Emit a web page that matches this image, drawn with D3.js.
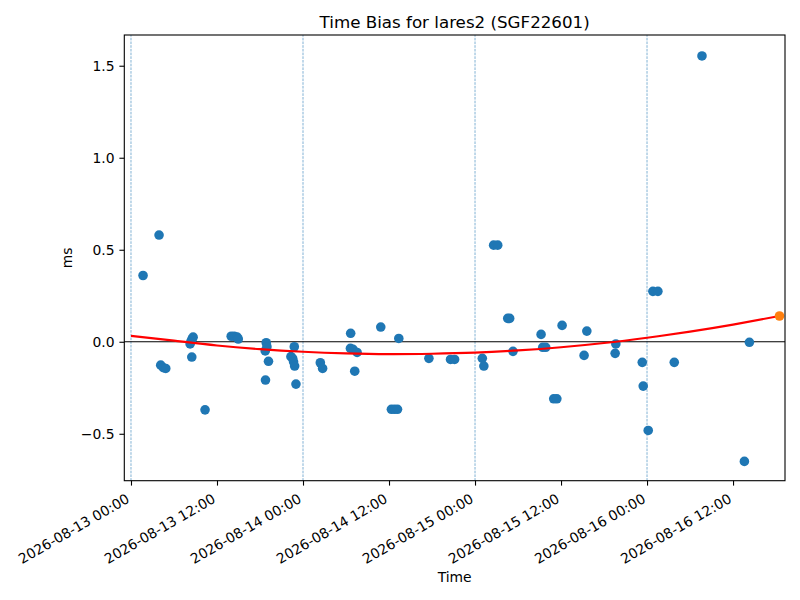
<!DOCTYPE html>
<html>
<head>
<meta charset="utf-8">
<script src="https://cdn.jsdelivr.net/npm/d3@7"></script>
<style>
  body { margin: 0; background: #fff; }
  svg { font-family: "DejaVu Sans", sans-serif; }
</style>
</head>
<body>
<div id="chart"></div>
<script>
// observation times (UTC) and time bias in ms
var obsTimes = [
  "2026-08-13T01:41", "2026-08-13T03:55", "2026-08-13T04:09", "2026-08-13T04:31", "2026-08-13T04:51",
  "2026-08-13T08:15", "2026-08-13T08:23", "2026-08-13T08:29", "2026-08-13T08:32", "2026-08-13T08:40",
  "2026-08-13T10:20", "2026-08-13T13:59", "2026-08-13T14:24", "2026-08-13T14:49", "2026-08-13T14:58",
  "2026-08-13T18:44", "2026-08-13T18:46", "2026-08-13T18:52", "2026-08-13T18:58", "2026-08-13T19:11",
  "2026-08-13T22:19", "2026-08-13T22:33", "2026-08-13T22:41", "2026-08-13T22:47", "2026-08-13T22:50",
  "2026-08-13T23:01", "2026-08-14T02:25", "2026-08-14T02:44", "2026-08-14T06:37", "2026-08-14T06:39",
  "2026-08-14T06:59", "2026-08-14T07:13", "2026-08-14T07:33", "2026-08-14T10:51", "2026-08-14T12:20",
  "2026-08-14T12:46", "2026-08-14T13:11", "2026-08-14T13:22", "2026-08-14T17:34", "2026-08-14T20:35",
  "2026-08-14T21:09", "2026-08-15T01:01", "2026-08-15T01:14", "2026-08-15T02:36", "2026-08-15T03:10",
  "2026-08-15T04:34", "2026-08-15T04:50", "2026-08-15T05:18", "2026-08-15T09:13", "2026-08-15T09:27",
  "2026-08-15T09:52", "2026-08-15T10:59", "2026-08-15T11:25", "2026-08-15T12:09", "2026-08-15T15:13",
  "2026-08-15T15:36", "2026-08-15T19:33", "2026-08-15T19:39", "2026-08-15T23:20", "2026-08-15T23:28",
  "2026-08-16T00:10", "2026-08-16T00:49", "2026-08-16T01:31", "2026-08-16T03:48", "2026-08-16T07:40",
  "2026-08-16T13:35", "2026-08-16T14:17"
];
var obsBias = [
  0.36, 0.58, -0.127, -0.141, -0.145,
  -0.012, 0.004, -0.083, 0.015, 0.025,
  -0.37, 0.03, 0.03, 0.025, 0.015,
  -0.05, -0.208, -0.005, -0.027, -0.106,
  -0.081, -0.09, -0.109, -0.027, -0.132,
  -0.23, -0.114, -0.145, -0.036, 0.046,
  -0.041, -0.16, -0.058, 0.08, -0.367,
  -0.367, -0.367, 0.018, -0.09, -0.096,
  -0.096, -0.09, -0.132, 0.525, 0.525,
  0.127, 0.127, -0.052, 0.04, -0.03,
  -0.03, -0.31, -0.31, 0.089, -0.074,
  0.058, -0.063, -0.012, -0.112, -0.241,
  -0.482, 0.274, 0.274, -0.112, 1.553,
  -0.65, -0.003
];

// fitted trend (red)
var fitTimes = [
  "2026-08-13T00:00", "2026-08-13T06:00", "2026-08-13T12:00", "2026-08-13T18:00",
  "2026-08-14T00:00", "2026-08-14T06:00", "2026-08-14T12:00", "2026-08-14T18:00",
  "2026-08-15T00:00", "2026-08-15T06:00", "2026-08-15T12:00", "2026-08-15T18:00",
  "2026-08-16T00:00", "2026-08-16T06:00", "2026-08-16T12:00", "2026-08-16T18:29"
];
var fitBias = [0.032, 0.006, -0.02, -0.04, -0.054, -0.063, -0.067, -0.065,
               -0.059, -0.047, -0.03, -0.007, 0.022, 0.055, 0.093, 0.14];

// predicted point (orange)
var predTime = ["2026-08-16T18:29"];
var predBias = [0.14];

var dayLines = ["2026-08-13T00:00", "2026-08-14T00:00", "2026-08-15T00:00", "2026-08-16T00:00"];
var xDomain = ["2026-08-12T23:04", "2026-08-16T19:15"];
var yDomain = [-0.755, 1.667];
var yTicks = [-0.5, 0.0, 0.5, 1.0, 1.5];

var width = 800, height = 600;
var margin = {top: 35, right: 15, bottom: 119.3, left: 124.3};

var parse = d3.utcParse("%Y-%m-%dT%H:%M");
var fmt = d3.utcFormat("%Y-%m-%d %H:%M");

var points = obsTimes.map(function (t, i) { return {t: parse(t), v: obsBias[i]}; });
var fit = fitTimes.map(function (t, i) { return {t: parse(t), v: fitBias[i]}; });
var pred = predTime.map(function (t, i) { return {t: parse(t), v: predBias[i]}; });

var svg = d3.select("#chart").append("svg")
    .attr("width", width)
    .attr("height", height);

var x = d3.scaleUtc()
    .domain(xDomain.map(parse))
    .range([margin.left, width - margin.right]);

var y = d3.scaleLinear()
    .domain(yDomain)
    .range([height - margin.bottom, margin.top]);

var plot = svg.append("g");

// dashed day separators
plot.selectAll(".dayline")
    .data(dayLines.map(parse))
    .enter().append("line")
    .attr("x1", function (d) { return x(d); })
    .attr("x2", function (d) { return x(d); })
    .attr("y1", y(yDomain[0]))
    .attr("y2", y(yDomain[1]))
    .style("stroke", "#1f77b4")
    .style("stroke-width", 0.7)
    .style("stroke-dasharray", "2.6,1.1")
    .style("opacity", 0.8);

// zero line
plot.append("line")
    .attr("x1", x.range()[0])
    .attr("x2", x.range()[1])
    .attr("y1", y(0))
    .attr("y2", y(0))
    .style("stroke", "#000")
    .style("stroke-width", 1.1);

plot.selectAll(".obs")
    .data(points)
    .enter().append("circle")
    .attr("cx", function (d) { return x(d.t); })
    .attr("cy", function (d) { return y(d.v); })
    .attr("r", 4.8)
    .style("fill", "#1f77b4");

var line = d3.line()
    .x(function (d) { return x(d.t); })
    .y(function (d) { return y(d.v); })
    .curve(d3.curveNatural);

plot.append("path")
    .datum(fit)
    .attr("d", line)
    .style("fill", "none")
    .style("stroke", "#ff0000")
    .style("stroke-width", 2.1);

plot.selectAll(".pred")
    .data(pred)
    .enter().append("circle")
    .attr("cx", function (d) { return x(d.t); })
    .attr("cy", function (d) { return y(d.v); })
    .attr("r", 4.8)
    .style("fill", "#ff7f0e");

// frame
svg.append("rect")
    .attr("x", margin.left)
    .attr("y", margin.top)
    .attr("width", width - margin.left - margin.right)
    .attr("height", height - margin.top - margin.bottom)
    .style("fill", "none")
    .style("stroke", "#000")
    .style("stroke-width", 1.1);

// x axis
var xAxis = svg.append("g")
    .attr("transform", "translate(0," + (height - margin.bottom) + ")")
    .call(d3.axisBottom(x)
        .ticks(d3.utcHour.every(12))
        .tickFormat(fmt)
        .tickSizeOuter(0)
        .tickSize(4.9));

xAxis.select(".domain").remove();
xAxis.selectAll(".tick line").style("stroke", "#000").style("stroke-width", 1.1);
xAxis.selectAll(".tick text")
    .attr("y", 0)
    .attr("dy", 0)
    .attr("transform", "translate(-1,21) rotate(-30)")
    .style("text-anchor", "end")
    .style("font-size", "13.9px")
    .style("font-family", "DejaVu Sans")
    .style("fill", "#000");

// y axis
var yAxis = svg.append("g")
    .attr("transform", "translate(" + margin.left + ",0)")
    .call(d3.axisLeft(y)
        .tickValues(yTicks)
        .tickFormat(function (d) { return d3.format(".1f")(d).replace("-", "\u2212"); })
        .tickSizeOuter(0)
        .tickSize(4.9)
        .tickPadding(4.9));

yAxis.select(".domain").remove();
yAxis.selectAll(".tick line").style("stroke", "#000").style("stroke-width", 1.1);
yAxis.selectAll(".tick text")
    .style("font-size", "13.9px")
    .style("font-family", "DejaVu Sans")
    .style("fill", "#000");

// labels
svg.append("text")
    .attr("x", (margin.left + width - margin.right) / 2)
    .attr("y", 28.3)
    .attr("text-anchor", "middle")
    .style("font-size", "16.7px")
    .text("Time Bias for lares2 (SGF22601)");

svg.append("text")
    .attr("x", (margin.left + width - margin.right) / 2)
    .attr("y", 582)
    .attr("text-anchor", "middle")
    .style("font-size", "13.9px")
    .text("Time");

svg.append("text")
    .attr("transform", "translate(72," + ((margin.top + height - margin.bottom) / 2) + ") rotate(-90)")
    .attr("text-anchor", "middle")
    .style("font-size", "13.9px")
    .text("ms");
</script>
</body>
</html>
